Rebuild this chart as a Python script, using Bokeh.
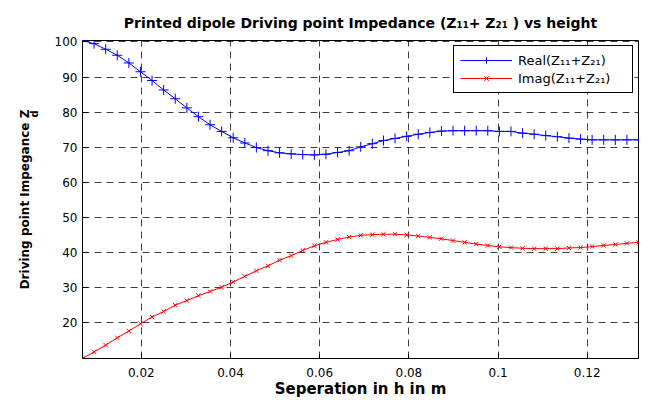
from bokeh.plotting import figure
from bokeh.models import Range1d, FixedTicker, PrintfTickFormatter, Label
from bokeh.embed import file_html
from bokeh.resources import INLINE

# separation h (m)
h = [0.0068, 0.0094, 0.0120, 0.0146, 0.0172, 0.0198, 0.0224, 0.0250, 0.0276, 0.0302,
     0.0328, 0.0354, 0.0380, 0.0406, 0.0432, 0.0458, 0.0484, 0.0510, 0.0536, 0.0562,
     0.0588, 0.0614, 0.0640, 0.0666, 0.0692, 0.0718, 0.0743, 0.0769, 0.0795, 0.0821,
     0.0847, 0.0873, 0.0899, 0.0925, 0.0951, 0.0977, 0.1003, 0.1029, 0.1055, 0.1081,
     0.1107, 0.1133, 0.1159, 0.1185, 0.1211, 0.1237, 0.1263, 0.1289, 0.1315]

# Real(Z11+Z21)
real_z = [100.4, 99.5, 97.9, 96.2, 94.0, 91.5, 89.0, 86.3, 83.8, 81.2,
          78.7, 76.4, 74.5, 72.7, 71.2, 69.9, 69.0, 68.4, 68.1, 67.9,
          67.8, 68.0, 68.5, 69.0, 70.1, 71.0, 71.9, 72.5, 73.1, 73.7,
          74.2, 74.6, 74.7, 74.7, 74.7, 74.7, 74.5, 74.5, 74.0, 73.7,
          73.3, 73.0, 72.6, 72.3, 72.1, 72.1, 72.1, 72.1, 72.1]

# Imag(Z11+Z21)
imag_z = [9.8, 11.7, 13.6, 15.7, 17.6, 19.7, 21.6, 23.2, 25.0, 26.3,
          27.7, 28.9, 30.1, 31.6, 33.2, 34.8, 36.2, 37.8, 39.1, 40.6,
          41.9, 42.9, 43.7, 44.4, 44.9, 45.1, 45.2, 45.2, 45.0, 44.7,
          44.3, 43.9, 43.4, 42.9, 42.4, 42.0, 41.6, 41.4, 41.2, 41.1,
          41.1, 41.1, 41.3, 41.4, 41.7, 42.0, 42.3, 42.6, 42.9]

x_ticks = [0.02, 0.04, 0.06, 0.08, 0.1, 0.12]
y_ticks = [20, 30, 40, 50, 60, 70, 80, 90, 100]

FONT = "DejaVu Sans"

p = figure(width=647, height=400, output_backend="svg", toolbar_location=None,
           x_range=Range1d(0.0068, 0.1315), y_range=Range1d(9.8, 100.4),
           min_border_left=82, min_border_right=9, min_border_top=40, min_border_bottom=38,
           title="Printed dipole Driving point Impedance (Z\u2081\u2081+ Z\u2082\u2081 ) vs height")

p.title.align = "center"
p.title.text_font = FONT
p.title.text_font_size = "14px"
p.title.text_font_style = "bold"
p.title.text_color = "black"
p.title.standoff = 20

p.outline_line_color = "black"
p.outline_line_alpha = 1.0
p.background_fill_color = "white"
p.border_fill_color = "white"

p.line(h, real_z, line_color="#0000FF", line_width=1, legend_label="Real(Z\u2081\u2081+Z\u2082\u2081)")
p.scatter(h, real_z, marker="cross", size=10, line_color="#0000FF", line_width=1,
          legend_label="Real(Z\u2081\u2081+Z\u2082\u2081)")
p.line(h, imag_z, line_color="#FF0000", line_width=1, legend_label="Imag(Z\u2081\u2081+Z\u2082\u2081)")
p.scatter(h, imag_z, marker="x", size=6, line_color="#FF0000", line_width=1,
          legend_label="Imag(Z\u2081\u2081+Z\u2082\u2081)")

p.xaxis.ticker = FixedTicker(ticks=x_ticks)
p.yaxis.ticker = FixedTicker(ticks=y_ticks)
p.xaxis.formatter = PrintfTickFormatter(format="%g")

for ax in (p.xaxis, p.yaxis):
    ax.major_tick_in = 5
    ax.major_tick_out = 0
    ax.minor_tick_line_color = None
    ax.axis_line_color = "black"
    ax.major_tick_line_color = "black"
    ax.major_label_text_font = FONT
    ax.major_label_text_font_size = "12px"
    ax.major_label_text_color = "black"
    ax.axis_label_text_font = FONT
    ax.axis_label_text_font_style = "bold"
    ax.axis_label_text_color = "black"

p.xaxis.axis_label = "Seperation in h in m"
p.xaxis.axis_label_text_font_size = "15px"
p.xaxis.axis_label_standoff = 0
p.xaxis.major_label_standoff = 9

p.yaxis.axis_label = "Driving point Impegance Z"
p.yaxis.axis_label_text_font_size = "12px"
p.yaxis.axis_label_standoff = 20
p.yaxis.major_label_standoff = 5

# subscript d of the y label
p.add_layout(Label(x=36, y=241, x_units="screen", y_units="screen", text="d", angle=1.5708,
                   angle_units="rad", text_font=FONT, text_font_size="10px",
                   text_font_style="bold", text_color="black"), "left")

p.xgrid.grid_line_color = "black"
p.ygrid.grid_line_color = "black"
p.xgrid.grid_line_alpha = 0.75
p.ygrid.grid_line_alpha = 0.75
p.xgrid.grid_line_dash = "7 5"
p.ygrid.grid_line_dash = "7 5"

lg = p.legend[0]
lg.location = "top_right"
lg.margin = 5
lg.padding = 6
lg.spacing = 2
lg.glyph_width = 52
lg.glyph_height = 16
lg.label_height = 16
lg.label_width = 108
lg.label_standoff = 6
lg.label_text_font = FONT
lg.label_text_font_size = "13px"
lg.label_text_color = "black"
lg.border_line_color = "black"
lg.border_line_alpha = 1.0
lg.background_fill_alpha = 1.0

open("out.html", "w").write(file_html(p, INLINE))
